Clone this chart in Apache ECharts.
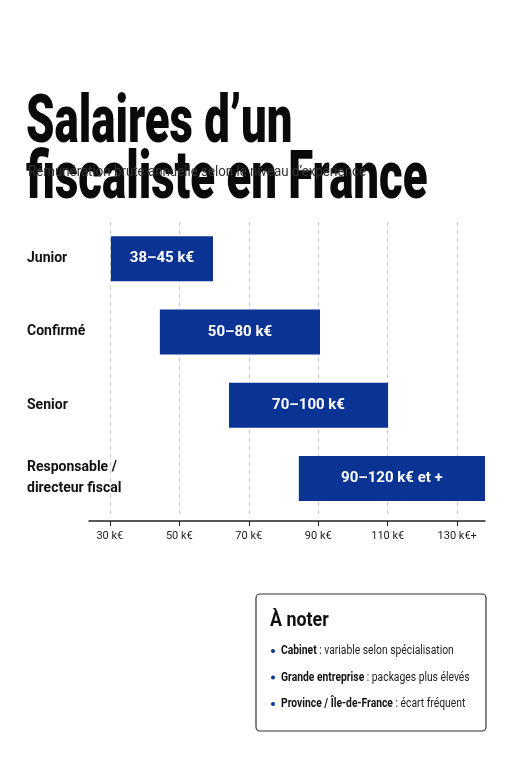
<!DOCTYPE html>
<html><head><meta charset="utf-8">
<script src="https://cdn.jsdelivr.net/npm/echarts@6/dist/echarts.min.js"></script>
<style>html,body{margin:0;padding:0;background:#fff}#c{width:511px;height:768px}</style>
</head><body><div id="c"></div>
<script>
const categories = ['Junior', 'Confirmé', 'Senior', 'Responsable /\ndirecteur fiscal'];
const barStart = [30.3, 44.4, 64.3, 84.4];
const barEnd = [59.7, 90.5, 110.1, 138];
const barLabels = ['38–45 k€', '50–80 k€', '70–100 k€', '90–120 k€ et +'];
const tickValues = [30, 50, 70, 90, 110, 130];
const tickLabels = ['30 k€', '50 k€', '70 k€', '90 k€', '110 k€', '130 k€+'];
const titleLines = ['Salaires d’un', 'fiscaliste en France'];
const subtitle = 'Rémunération brute annuelle selon le niveau d’expérience';
const notes = [['Cabinet', 'variable selon spécialisation'], ['Grande entreprise', 'packages plus élevés'], ['Province / Île-de-France', 'écart fréquent']];

const ff = 'Roboto, sans-serif';
const blue = '#0b3394';
const chart = echarts.init(document.getElementById('c'));
const els = [
  {type:'text', x:26, y:92, scaleX:0.69, style:{text:titleLines[0], font:'900 66px '+ff, fill:'#0a0a0a', verticalAlign:'alphabetic'}},
  {type:'text', x:26, y:148, scaleX:0.69, style:{text:titleLines[1], font:'900 66px '+ff, fill:'#0a0a0a', verticalAlign:'alphabetic'}},
  {type:'text', x:28, y:172, scaleX:0.95, style:{text:subtitle, font:'14px '+ff, fill:'#333', verticalAlign:'middle'}},
  {type:'rect', shape:{x:256,y:594,width:230,height:137,r:4}, style:{fill:'#fff',stroke:'#333',lineWidth:1.2}},
  {type:'text', x:270, y:610, scaleX:0.85, style:{text:'À noter', font:'bold 21px '+ff, fill:'#111'}}
];
notes.forEach((n,i)=>{
  const y = 651 + i*26.5;
  els.push({type:'circle', shape:{cx:273,cy:y,r:2}, style:{fill:blue}});
  els.push({type:'text', x:281, y:y, scaleX:0.86, style:{text:'{b|'+n[0]+'} : '+n[1], verticalAlign:'middle', font:'12px '+ff, fill:'#222', rich:{b:{font:'bold 12px '+ff, fill:'#111'}}}});
});
chart.setOption({
  animation:false,
  grid:{left:89, right:26, top:222, height:293},
  xAxis:{type:'value', min:24, max:138, offset:6,
    axisLine:{show:true, lineStyle:{color:'#222', width:1.5}},
    axisTick:{show:true, customValues:tickValues, length:5, lineStyle:{color:'#222'}},
    axisLabel:{customValues:tickValues, formatter:v=>tickLabels[tickValues.indexOf(v)]||'', fontFamily:ff, fontSize:11, color:'#222', margin:10},
    splitLine:{show:false}},
  yAxis:{type:'category', inverse:true, data:categories, axisLine:{show:false}, axisTick:{show:false},
    axisLabel:{align:'left', margin:62, fontFamily:ff, fontWeight:'bold', fontSize:14, lineHeight:21, color:'#111', padding:[0,0,12,0]}},
  series:[
    {type:'bar', stack:'s', z:1, data:barStart, itemStyle:{color:'transparent'}, barWidth:45, silent:true,
      markLine:{symbol:'none', silent:true, z:1, label:{show:false}, lineStyle:{type:[4,4], color:'#ccc', width:1}, data:tickValues.map(v=>({xAxis:v}))}},
    {type:'bar', stack:'s', z:5, data:barEnd.map((e,i)=>e-barStart[i]), itemStyle:{color:blue}, barWidth:45,
      label:{show:true, position:'inside', formatter:p=>barLabels[p.dataIndex], color:'#fff', fontFamily:ff, fontWeight:'bold', fontSize:15}}
  ],
  graphic:els
});
</script></body></html>
